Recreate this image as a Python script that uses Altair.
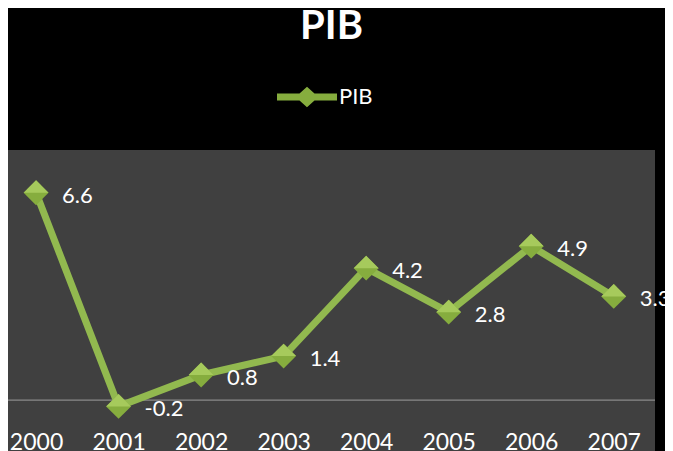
import altair as alt
import pandas as pd

years = [2000, 2001, 2002, 2003, 2004, 2005, 2006, 2007]
pib = [6.6, -0.2, 0.8, 1.4, 4.2, 2.8, 4.9, 3.3]
pib_text = ["6.6", "-0.2", "0.8", "1.4", "4.2", "2.8", "4.9", "3.3"]
series = ["PIB"] * len(years)
zero_value = [0]

df = pd.DataFrame({"year": years, "pib": pib, "txt": pib_text, "series": series})
zdf = pd.DataFrame({"zero": zero_value})

FONT = "Lato"
LINE = "#92b94f"

x_enc = alt.X(
    "year:Q",
    scale=alt.Scale(domain=[1999.66, 2007.5], nice=False, zero=False),
    axis=alt.Axis(
        values=years, format="d", title=None, grid=False, domain=False,
        ticks=False, labelColor="white", labelFontSize=23,
        labelFont=FONT, labelBaseline="alphabetic", labelPadding=12,
        offset=-14, labelFlush=False, labelOverlap=False,
    ),
)
y_scale = alt.Scale(domain=[-1.62, 7.96], nice=False, zero=False)
y_enc = alt.Y("pib:Q", scale=y_scale, axis=None)

base = alt.Chart(df)

zero = alt.Chart(zdf).mark_rule(color="#9c9c9c", strokeWidth=1).encode(
    y=alt.Y("zero:Q", scale=y_scale, axis=None)
)

line = base.mark_line(color=LINE, strokeWidth=7).encode(x=x_enc, y=y_enc)

legend_path = ("M-1,-0.12 L1,-0.12 L1,0.12 L-1,0.12 Z "
               "M-0.38,0 L0,-0.34 L0.38,0 L0,0.34 Z")

pts = base.mark_point(filled=True, shape="diamond", size=620, opacity=1).encode(
    x=x_enc, y=y_enc,
    fill=alt.Fill(
        "series:N",
        scale=alt.Scale(range=["#86ad3e"]),
        legend=alt.Legend(
            orient="none", legendX=269, legendY=-83, title=None,
            symbolType=legend_path, symbolSize=3600, symbolStrokeWidth=0,
            symbolOpacity=1, labelColor="white", labelFontSize=22,
            labelFont=FONT, labelOffset=2, padding=0,
        ),
    ),
)

upper_half = "M-1,0 L0,-1 L1,0 Z"
pts_top = base.mark_point(filled=True, shape=upper_half, size=620, opacity=1,
                          color="#a6ca5c").encode(x=x_enc, y=y_enc)

labels = base.mark_text(
    align="left", baseline="middle", dx=26, dy=3, fontSize=22,
    color="white", font=FONT,
).encode(x=x_enc, y=y_enc, text="txt:N")

chart = (
    alt.layer(zero, line, pts, pts_top, labels)
    .properties(
        width=647, height=301,
        title=alt.Title(
            "PIB", fontSize=40, fontWeight="bold", color="white", font=FONT,
            anchor="middle", offset=20,
        ),
        autosize=alt.AutoSizeParams(type="none"),
        padding={"left": 0, "top": 142, "right": 10, "bottom": 0},
        background="black",
    )
    .configure_view(fill="#404040", strokeWidth=0)
)

chart.save("out.html", embed_options={"renderer": "svg", "actions": False})
